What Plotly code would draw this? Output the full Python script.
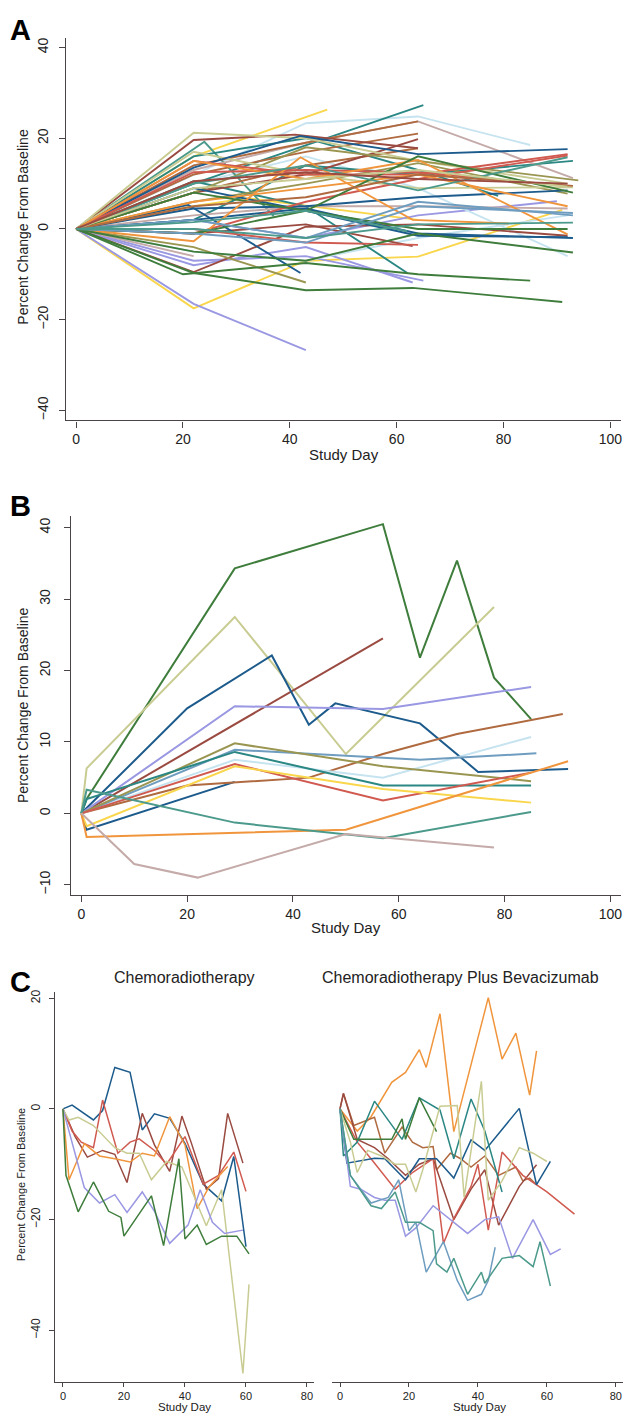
import plotly.graph_objects as go

# ---------------- DATA ----------------
# Stata-like palette names used as colours for each series
PAL = {
    "navy": "#1c5b8c", "maroon": "#9a4a40", "green": "#3f7d3c", "orange": "#f0953c",
    "teal": "#2a8783", "red": "#d05a50", "lav": "#9a98e2", "khaki": "#c9cc92",
    "sienna": "#b06a40", "steel": "#6f9dc0", "emer": "#4c9a8c", "olive": "#9a9652",
    "rose": "#c4aaa8", "gold": "#f9d64c", "lblue": "#c6e3f0",
}

# Panel A: all patients
a_days = [
    [0, 22, 47], [0, 22, 43, 64, 91], [0, 22, 32, 64], [0, 22, 43], [0, 22, 43, 63],
    [0, 22, 43, 64, 90], [0, 22, 43, 65], [0, 22, 43, 64, 85], [0, 22, 43, 64, 92], [0, 22, 43, 64, 92],
    [0, 22, 65], [0, 22, 43, 62], [0, 24, 37], [0, 22, 43, 64, 79], [0, 22, 43, 64, 93],
    [0, 22, 43, 64, 93], [0, 22], [0, 22, 43, 64, 92], [0, 22, 43, 64], [0, 22, 43, 64],
    [0, 22, 43, 64], [0, 22, 41, 64], [0, 22, 43, 64, 92], [0, 22, 43, 63], [0, 22, 43, 64],
    [0, 22, 43, 64, 92], [0, 22, 43, 64, 94], [0, 22, 43], [0, 22, 43, 64, 92], [0, 22, 43, 64, 93],
    [0, 22, 42, 64, 92], [0, 21, 42], [0, 22, 43, 64, 92], [0, 22, 43, 64, 92], [0, 22, 43, 64, 93],
    [0, 22, 43, 64, 92], [0, 22, 43, 64, 92], [0, 22, 43, 64, 92], [0, 22, 43, 64], [0, 22, 42, 63, 81],
    [0, 22, 43, 64, 92], [0, 22, 43, 64, 92], [0, 22, 43, 63, 91], [0, 20, 43, 64, 85], [0, 22, 43, 64, 93],
    [0, 22, 43, 64, 92], [0, 22, 43, 64, 93], [0, 22, 43, 64, 93], [0, 22, 43, 64, 93], [0, 22, 43, 64, 93],
    [0, 22, 43, 64, 92], [0, 22, 43, 64, 93], [0, 22, 43, 64, 92], [0, 22, 43, 64, 92], [0, 22, 43, 62],
]
a_values = [
    [0, 16, 26.3], [0, -17.5, -7, -6.1, 4.2], [0, 5, 6.8, 2], [0, -16.5, -26.7], [0, -8, -4, -11.8],
    [0, 2, -2, 3, 6.1], [0, -7, -6, -11.4], [0, 12, 23.3, 24.8, 18.5], [0, 10, 16, 9, -6], [0, -5, -7, -2, 3],
    [0, 10, 27.3], [0, 10.5, 5, -9.7], [0, 19.2, 2.8], [0, 16, 20, 13, 7.3], [0, 2, 14, 12, 15],
    [0, 13, 19, 23.7, 11.2], [0, -6], [0, 3, 5, 5, 4.5], [0, 14, 19, 23.7], [0, 12, 17, 21],
    [0, 8, 14, 17.8], [0, 19.6, 20.8, 17.8], [0, -9.5, 0.5, 1, -1.5], [0, -1, 1, -3.8], [0, 8, 12, 19.8],
    [0, 21.2, 20, 15, 10], [0, 8, 18, 15, 10.7], [0, -4, -11.8], [0, 6, 10, 14.5, 7.8], [0, 17, 12, 9, 9.2],
    [0, 13.5, 20.5, 16.5, 17.6], [0, 5.3, -9.7], [0, 4.5, 5, 7, 8.5], [0, 9, 4, -1.5, -1.8], [0, 2, 4.5, -1, -2],
    [0, 15, 12, 12, 16.5], [0, -1, 6, 11, 16.2], [0, 12.5, 13, 12.5, 9.5], [0, 0, -3, -3.5], [0, -2.7, 15.8, 2, 1.2],
    [0, 15, 11, 15.2, -1.2], [0, 6, 9, 12, 5], [0, -9.7, -13.5, -13, -16.1], [0, -10, -7.5, -10, -11.4], [0, -5, -7, -1, -5.2],
    [0, -1, 4, 0, 0], [0, 8, 4, 16, 8], [0, 2, -2, 6, 3], [0, -1, -3, 5, 3.5], [0, 0, -2, 1, 1.4],
    [0, 10, 14, 8.5, 15.8], [0, 5, 7, 12, 9.5], [0, 9, 11, 13, 9.3], [0, 10.5, 12.5, 11, 10], [0, 1.5, 4, -0.5],
]
a_colors = [
    "gold", "gold", "gold", "lav", "lav", "lav", "lav", "lblue", "lblue", "lblue",
    "teal", "teal", "emer", "teal", "teal", "rose", "rose", "rose", "sienna", "sienna",
    "sienna", "maroon", "maroon", "maroon", "maroon", "khaki", "olive", "olive", "olive", "khaki",
    "navy", "navy", "navy", "navy", "navy", "red", "red", "red", "red", "orange",
    "orange", "orange", "green", "green", "green", "green", "green", "steel", "steel", "emer",
    "emer", "sienna", "khaki", "maroon", "emer",
]

# Panel B
b_days = [
    [0, 1, 29, 57, 64, 71, 78, 85], [0, 1, 29, 50, 78], [0, 57], [0, 20, 36, 43, 48, 64, 75, 92],
    [0, 1, 29], [0, 29, 57, 85], [0, 20, 43, 57, 71, 91], [0, 29, 57, 85], [0, 29, 64, 86],
    [0, 29, 57, 85], [0, 1, 29, 57, 85], [0, 29, 57, 85], [0, 1, 29, 57, 85], [0, 1, 50, 92],
    [0, 1, 29, 57, 85], [0, 10, 22, 50, 78],
]
b_values = [
    [0, 2, 34.3, 40.5, 21.8, 35.4, 19, 13.2], [0, 6.3, 27.5, 8.3, 28.9], [0, 24.5], [0, 14.7, 22.1, 12.4, 15.4, 12.6, 5.8, 6.2],
    [0, -2.3, 4.4], [0, 15.0, 14.6, 17.7], [0, 3.9, 5, 8.3, 11.1, 13.9], [0, 7.5, 5.0, 10.7], [0, 8.9, 7.5, 8.4],
    [0, 9.8, 6.6, 4.5], [0, 2, 8.6, 3.9, 3.9], [0, 6.9, 1.8, 5.7], [0, -1.8, 6.6, 3.4, 1.5], [0, -3.3, -2.3, 7.3],
    [0, 3.3, -1.3, -3.5, 0.2], [0, -7.1, -9.0, -2.9, -4.8],
]
b_colors = ["green", "khaki", "maroon", "navy", "navy", "lav", "sienna", "lblue", "steel",
            "olive", "teal", "red", "gold", "orange", "emer", "rose"]

# Panel C, chemoradiotherapy
c1_days = [
    [0, 3, 10, 13, 17, 22, 26, 30, 35, 40, 46, 52, 56, 60],
    [0, 4, 8, 13, 17, 21, 26, 30, 35, 39, 42, 47, 51, 54, 59],
    [0, 3, 6, 10, 13, 18, 22, 25, 30, 34, 40, 46, 51, 56, 60],
    [0, 2, 7, 12, 17, 22, 26, 30, 35, 40, 44, 48, 54],
    [0, 2, 5, 10, 17, 21, 25, 29, 34, 39, 47, 52, 59, 61],
    [0, 3, 7, 12, 17, 21, 26, 30, 35, 41, 45, 49, 53, 59],
    [0, 1, 5, 10, 15, 19, 20, 25, 29, 33, 38, 40, 44, 47, 52, 57, 61],
]
c1_values = [
    [0, 0.7, -2, -0.3, 7.5, 6.6, -3.8, -0.9, -1.7, -6.2, -13.6, -16.6, -8.6, -24.9],
    [0, -5, -8.7, -7.5, -8.2, -13.3, -0.8, -6.5, -11.3, -1.3, -6, -14.5, -12.6, -0.8, -9.8],
    [0, -4, -6, -7, 1.6, -8, -6, -5.4, -7.5, -10, -5, -13.6, -12, -7.8, -14.9],
    [0, -12.8, -6.3, -8.5, -9, -9.6, -8, -8.5, -1.4, -6.5, -18, -14, -10.4],
    [0, -2, -1.5, -3, -7, -8, -8, -12.8, -9.5, -10.5, -21.1, -14.6, -47.8, -31.7],
    [0, -6, -14.2, -17, -15.5, -18.7, -15, -18.5, -24.3, -21, -14.6, -20.5, -22.5, -21.9],
    [0, -12, -18.6, -13.2, -18.5, -19.6, -23, -19, -15.7, -24.7, -9, -23.5, -21, -24.5, -23, -23, -26.2],
]
c1_colors = ["navy", "maroon", "red", "orange", "khaki", "lav", "green"]

# Panel C, chemoradiotherapy plus bevacizumab
c2_days = [
    [0, 5, 9, 15, 19, 23, 25, 29, 33, 38, 43, 47, 51, 55, 57],
    [0, 1, 4, 6, 10, 13, 18, 21, 24, 27, 28, 32, 35, 38, 42, 46, 51, 53, 55, 57],
    [0, 1, 5, 10, 14, 19, 23, 27, 33, 38, 42, 46, 52, 57],
    [0, 5, 9, 16, 21, 27, 30, 33, 38, 40, 43, 47, 53, 60, 68],
    [0, 2, 10, 13, 19, 23, 28, 33, 38, 42, 52, 57, 61],
    [0, 1, 5, 10, 18, 23, 29, 33, 38, 42, 47],
    [0, 4, 9, 15, 18, 19, 23, 28],
    [0, 3, 5, 8, 12, 16, 19, 22, 24, 29, 34, 36, 41, 43, 47, 52, 56, 60],
    [0, 3, 6, 10, 13, 16, 19, 22, 27, 32, 37, 42, 46, 50, 56, 61, 64],
    [0, 3, 9, 14, 17, 20, 22, 25, 30, 34, 37, 41, 43, 45],
    [0, 3, 9, 12, 16, 19, 23, 27, 28, 31, 33, 37, 41, 42, 47, 52, 56, 58, 61],
]
c2_values = [
    [0, -4, -1.4, 4.8, 6.6, 10.7, 7.5, 17.2, -4.1, 8, 20.1, 9, 13.7, 2.5, 10.5],
    [0, 2.8, -3, -2.5, -1.5, -8, -3.3, -6, -7, -6.8, -11, -8, -9, -10.5, -8.5, -12, -10.5, -13, -12.5, -13.7],
    [0, 2.8, -5.5, -7, -9, -12, -10, -9, -20, -14.5, -11, -21, -14, -10.1],
    [0, -6, -9, -14.5, -11.5, -9, -24.3, -19.8, -14, -10, -21.9, -7.8, -12, -15, -19],
    [0, -9.8, -8.9, -9, -12.8, -9, -9, -12.5, -5.6, -7.5, 0.1, -13.7, -9.5],
    [0, -8.5, -6, 1.4, -5.5, 2, -0.2, -9, 1.8, -4, -15],
    [0, -5.5, -5.5, -5.5, -1.8, -5.5, 2, -4.1],
    [0, -6, -11.5, -7.5, -8.5, -10, -10, -15, -11, 0.5, 0.6, -16, 5, -16.5, -13, -7, -8, -9.5],
    [0, -14, -14.5, -16, -16.5, -16.5, -23, -21.5, -17.5, -20, -22.5, -20, -19.5, -27, -20, -26.3, -25.3],
    [0, -12, -17, -16, -12.8, -22, -20.5, -29.5, -24, -31, -34.6, -33.5, -31, -25],
    [0, -12, -17.5, -18, -15, -20.5, -20.5, -22, -28, -29.5, -27, -33.5, -29.5, -31.5, -27, -26.5, -28.5, -24, -32],
]
c2_colors = ["orange", "sienna", "maroon", "red", "navy", "teal", "green", "khaki", "lav", "steel", "emer"]

x_ticks_ab = [0, 20, 40, 60, 80, 100]
x_ticks_c = [0, 20, 40, 60, 80]
y_ticks_a = [-40, -20, 0, 20, 40]
y_ticks_b = [-10, 0, 10, 20, 30, 40]
y_ticks_c = [-40, -20, 0, 20]

# ---------------- FIGURE ----------------
W, H = 628, 1413
FONT = "Liberation Sans, Arial, sans-serif"
AX = "#4a4444"

fig = go.Figure()


def add_lines(days, vals, cols, xa, ya, width):
    for d, v, c in zip(days, vals, cols):
        fig.add_trace(go.Scatter(x=d, y=v, mode="lines", xaxis=xa, yaxis=ya,
                                 line=dict(color=PAL[c], width=width),
                                 showlegend=False, hoverinfo="skip"))


add_lines(a_days, a_values, a_colors, "x", "y", 1.9)
add_lines(b_days, b_values, b_colors, "x2", "y2", 2.0)
add_lines(c1_days, c1_values, c1_colors, "x3", "y3", 1.5)
add_lines(c2_days, c2_values, c2_colors, "x4", "y4", 1.5)


def px(x):
    return x / W


def py(y):
    return 1 - y / H


def xax(dom_px, rng, ticks, anchor, size, tlen=6, stand=0):
    return dict(domain=[px(dom_px[0]), px(dom_px[1])], range=rng, tickvals=ticks,
                showline=True, linecolor=AX, linewidth=1.3, ticks="outside", ticklen=tlen,
                tickcolor=AX, tickwidth=1.3, showgrid=False, zeroline=False, anchor=anchor,
                ticklabelstandoff=stand,
                tickfont=dict(family=FONT, size=size, color="#222"), fixedrange=True)


def yax(dom_px, rng, ticks, anchor, size, show=True, tlen=6, stand=0):
    return dict(domain=[py(dom_px[1]), py(dom_px[0])], range=rng, tickvals=ticks,
                showline=show, linecolor=AX, linewidth=1.3, ticks="outside" if show else "",
                ticklen=tlen, tickcolor=AX, tickwidth=1.3, showgrid=False, zeroline=False,
                anchor=anchor, tickangle=-90, showticklabels=show, ticklabelstandoff=stand,
                tickfont=dict(family=FONT, size=size, color="#222"), fixedrange=True)


fig.update_layout(
    width=W, height=H, margin=dict(l=0, r=0, t=0, b=0),
    paper_bgcolor="white", plot_bgcolor="white", showlegend=False,
    xaxis=xax((66.3, 622), [-1.86, 102.0], x_ticks_ab, "y", 14),
    yaxis=yax((36, 419), [-42.2, 42.1], y_ticks_a, "x", 14, stand=5),
    xaxis2=xax((71.5, 622), [-1.88, 102.0], x_ticks_ab, "y2", 14),
    yaxis2=yax((514.3, 894), [-11.4, 41.7], y_ticks_b, "x2", 14, stand=9),
    xaxis3=xax((55.4, 314.5), [-2.5, 82.3], x_ticks_c, "y3", 11, tlen=4),
    yaxis3=yax((991, 1381.7), [-49.3, 21.2], y_ticks_c, "x3", 12, tlen=5, stand=4),
    xaxis4=xax((332.5, 624), [-2.33, 82.07], x_ticks_c, "y4", 11, tlen=4),
    yaxis4=yax((991, 1381.7), [-49.3, 21.2], y_ticks_c, "x4", 12, show=False),
)


def note(text, x, y, size, angle=0, bold=False, color="#222"):
    fig.add_annotation(text=f"<b>{text}</b>" if bold else text, x=px(x), y=py(y),
                       xref="paper", yref="paper", showarrow=False, textangle=angle,
                       xanchor="center", yanchor="middle",
                       font=dict(family=FONT, size=size, color=color))


note("A", 21, 28, 29, bold=True, color="#000")
note("B", 21, 505, 29, bold=True, color="#000")
note("C", 21, 981, 29, bold=True, color="#000")

note("Percent Change From Baseline", 23, 225, 14, angle=-90)
note("Study Day", 345, 453, 15)
note("Percent Change From Baseline", 23, 704, 14, angle=-90)
note("Study Day", 347, 927, 15)
note("Percent Change From Baseline", 21, 1184, 11, angle=-90)
note("Study Day", 185, 1406.5, 11.5)
note("Study Day", 480, 1406.5, 11.5)
note("Chemoradiotherapy", 185, 977, 16)
note("Chemoradiotherapy Plus Bevacizumab", 461, 977, 16)

fig.write_html("out.html", config={"displayModeBar": False},
               post_script="document.body.style.margin='0';document.body.style.padding='0';")
